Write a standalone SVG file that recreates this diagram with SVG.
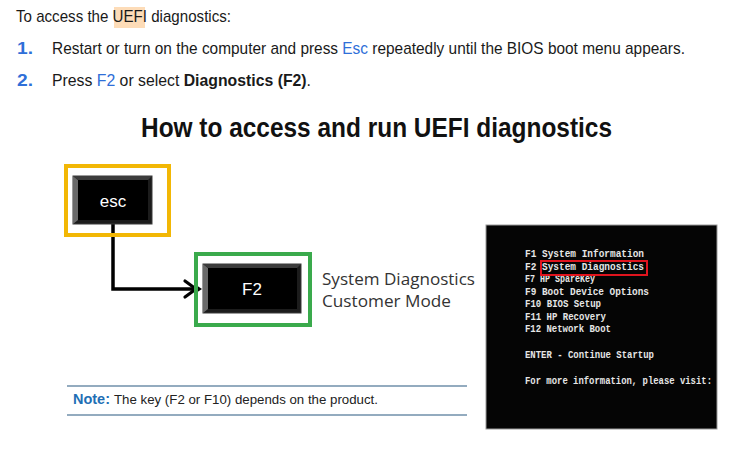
<svg xmlns="http://www.w3.org/2000/svg" width="750" height="454" viewBox="0 0 750 454">
<defs>
<style>
.body{font-family:"Liberation Sans",Arial,sans-serif;font-size:17px;fill:#1a1a1a}
.blue{fill:#2f6fd8}
.num{font-weight:bold;fill:#2f6fd8}
.b{font-weight:bold}
.title{font-family:"Liberation Sans",Arial,sans-serif;font-size:28px;font-weight:bold;fill:#111}
.key{font-family:"Liberation Sans",Arial,sans-serif;font-size:17px;fill:#fff;text-anchor:middle}
.cap{font-family:"Open Sans","Liberation Sans",sans-serif;font-size:17px;fill:#333}
.scr{font-family:"Liberation Mono","DejaVu Sans Mono",monospace;font-size:10.5px;font-weight:bold;fill:#e6e6e6}
.note{font-family:"Liberation Sans",Arial,sans-serif;font-size:13.5px;fill:#222}
.notelbl{font-family:"Liberation Sans",Arial,sans-serif;font-size:14.5px;font-weight:bold;fill:#1f6fb5}
.rule{stroke:#6f8faa;stroke-width:1.6}
.frame{fill:none;stroke-width:4}
</style>
<marker id="ah" markerUnits="userSpaceOnUse" markerWidth="24" markerHeight="24" refX="0" refY="0" viewBox="-14 -12 24 24" orient="auto" overflow="visible">
<path d="M-11,-8 L0,0 L-11,8" fill="none" stroke="#000" stroke-width="3.2" stroke-linecap="round" stroke-linejoin="round"/>
<path d="M0,-4 L6,0 L0,4 Z" fill="#000"/>
</marker>
</defs>
<rect width="750" height="454" fill="#fff"/>

<g id="intro">
<rect x="114" y="7" width="31" height="21" fill="#fddcb8"/>
<text class="body" x="16" y="22" textLength="215" lengthAdjust="spacingAndGlyphs">To access the UEFI diagnostics:</text>
<text class="body num" x="17" y="54" textLength="16" lengthAdjust="spacingAndGlyphs">1.</text>
<text class="body" x="52" y="54" textLength="633" lengthAdjust="spacingAndGlyphs">Restart or turn on the computer and press <tspan class="blue">Esc</tspan> repeatedly until the BIOS boot menu appears.</text>
<text class="body num" x="17" y="86" textLength="16" lengthAdjust="spacingAndGlyphs">2.</text>
<text class="body" x="52" y="86" textLength="259" lengthAdjust="spacingAndGlyphs">Press <tspan class="blue">F2</tspan> or select <tspan class="b">Diagnostics (F2)</tspan>.</text>
</g>

<g id="title">
<text class="title" x="141" y="137" textLength="471" lengthAdjust="spacingAndGlyphs">How to access and run UEFI diagnostics</text>
</g>

<g id="connectors">
<polyline points="113,222 113,289 196,289" fill="none" stroke="#000" stroke-width="3.5" marker-end="url(#ah)"/>
</g>

<g id="esc">
<rect class="frame" x="66" y="166" width="103" height="69" stroke="#f2b705"/>
<rect x="73" y="176" width="79" height="48" fill="#1c1c1c" stroke="#3a3a3a" stroke-width="1"/>
<polygon points="73,176 78,180 78,220 73,224" fill="#6a6a6a"/>
<polygon points="73,176 152,176 148,180 78,180" fill="#3c3c3c"/>
<rect x="78" y="180" width="70" height="40" fill="#000"/>
<text class="key" x="113" y="207">esc</text>
</g>

<g id="f2">
<rect class="frame" x="196" y="254" width="114" height="71" stroke="#3aaa4c"/>
<rect x="203" y="264" width="98" height="49" fill="#1c1c1c" stroke="#3a3a3a" stroke-width="1"/>
<polygon points="203,264 208,268 208,309 203,313" fill="#6a6a6a"/>
<polygon points="203,264 301,264 297,268 208,268" fill="#3c3c3c"/>
<rect x="208" y="268" width="89" height="41" fill="#000"/>
<text class="key" x="252" y="295">F2</text>
</g>

<g id="caption">
<text class="cap" x="322" y="285" textLength="153" lengthAdjust="spacingAndGlyphs">System Diagnostics</text>
<text class="cap" x="322" y="307" textLength="129" lengthAdjust="spacingAndGlyphs">Customer Mode</text>
</g>

<g id="screen">
<rect x="486" y="225" width="231" height="204" fill="#050505" stroke="#9a9a9a" stroke-width="1"/>
<text class="scr" x="525" y="257" textLength="119" lengthAdjust="spacingAndGlyphs">F1  System Information</text>
<text class="scr" x="525" y="270" textLength="119" lengthAdjust="spacingAndGlyphs">F2  System Diagnostics</text>
<text class="scr" x="525" y="282" textLength="70" lengthAdjust="spacingAndGlyphs">F7  HP SpareKey</text>
<text class="scr" x="525" y="295" textLength="124" lengthAdjust="spacingAndGlyphs">F9  Boot Device Options</text>
<text class="scr" x="525" y="307" textLength="76" lengthAdjust="spacingAndGlyphs">F10 BIOS Setup</text>
<text class="scr" x="525" y="320" textLength="81" lengthAdjust="spacingAndGlyphs">F11 HP Recovery</text>
<text class="scr" x="525" y="332" textLength="86" lengthAdjust="spacingAndGlyphs">F12 Network Boot</text>
<text class="scr" x="525" y="358" textLength="129" lengthAdjust="spacingAndGlyphs">ENTER - Continue Startup</text>
<text class="scr" x="525" y="384" textLength="187" lengthAdjust="spacingAndGlyphs">For more information, please visit:</text>
<rect x="541" y="261" width="106" height="14" fill="none" stroke="#e0141e" stroke-width="2"/>
</g>

<g id="note">
<line class="rule" x1="67" y1="386" x2="467" y2="386"/>
<line class="rule" x1="67" y1="415" x2="467" y2="415"/>
<text class="notelbl" x="73" y="404" textLength="37" lengthAdjust="spacingAndGlyphs">Note:</text>
<text class="note" x="114" y="404" textLength="264" lengthAdjust="spacingAndGlyphs">The key (F2 or F10) depends on the product.</text>
</g>
</svg>
